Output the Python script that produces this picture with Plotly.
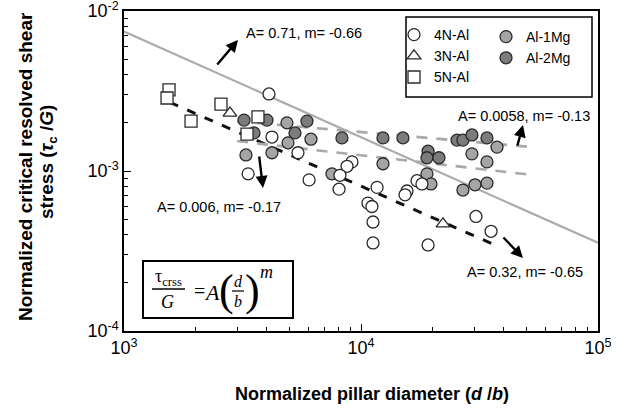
import numpy as np
import plotly.graph_objects as go

# Normalized pillar diameter (d/b) and normalized CRSS (tau/G) for each material
d_4n = [4090, 4210, 3340, 5420, 6040, 9160, 8730, 8150, 8080, 11690, 15630,
        17230, 18080, 15340, 10700, 11120, 11240, 11240, 19190, 30550, 35380]
t_4n = [3.03e-3, 1.63e-3, 9.6e-4, 1.30e-3, 8.8e-4, 1.14e-3, 1.07e-3, 9.4e-4,
        7.7e-4, 7.9e-4, 7.5e-4, 8.7e-4, 8.3e-4, 7.1e-4, 6.3e-4, 6.0e-4,
        4.8e-4, 3.55e-4, 3.45e-4, 5.2e-4, 4.2e-4]

d_3n = [2800, 22180]
t_3n = [2.30e-3, 4.67e-4]

d_5n = [1549, 1519, 1918, 2566, 3675, 3304]
t_5n = [3.21e-3, 2.86e-3, 2.05e-3, 2.62e-3, 2.18e-3, 1.70e-3]

d_1mg = [4870, 6150, 4920, 3270, 4210, 12380, 7540, 37490, 29380, 34000,
         18980, 19730, 26920, 30270, 34000]
t_1mg = [2.0e-3, 1.58e-3, 1.50e-3, 1.26e-3, 1.30e-3, 1.11e-3, 9.6e-4, 1.41e-3,
         1.28e-3, 1.14e-3, 9.6e-4, 8.3e-4, 7.6e-4, 8.2e-4, 8.4e-4]

d_2mg = [3210, 4010, 3536, 5915, 5265, 8310, 12380, 15030, 25420, 26920,
         29380, 34000, 19180, 18980, 21330]
t_2mg = [2.08e-3, 2.08e-3, 1.73e-3, 2.05e-3, 1.73e-3, 1.61e-3, 1.61e-3, 1.61e-3,
         1.56e-3, 1.56e-3, 1.68e-3, 1.61e-3, 1.33e-3, 1.21e-3, 1.21e-3]

# Power-law fits  tau/G = A (d/b)^m
fit_names = ["reference", "pure Al", "Al-1Mg", "Al-2Mg"]
fit_A = [0.71, 0.32, 0.006, 0.0058]
fit_m = [-0.66, -0.65, -0.17, -0.13]
fit_dmin = [1000, 1560, 3000, 3000]
fit_dmax = [100000, 36000, 52000, 52000]

x_ticks = [1e3, 1e4, 1e5]
x_tick_text = ["10<sup>3</sup>", "10<sup>4</sup>", "10<sup>5</sup>"]
y_ticks = [1e-4, 1e-3, 1e-2]
y_tick_text = ["10<sup>-4</sup>", "10<sup>-3</sup>", "10<sup>-2</sup>"]

SANS = "Arial, Liberation Sans, sans-serif"
SERIF = "Times New Roman, Liberation Serif, serif"

W, H = 630, 410
L, R, T, B = 124, 32, 11, 79
PW, PH = W - L - R, H - T - B


def px(x):
    return (x - L) / PW


def py(y):
    return (H - B - y) / PH


fig = go.Figure()

fit_styles = [
    dict(color="#ababab", width=2.2, dash="solid"),
    dict(color="#111111", width=3, dash="9px,10px"),
    dict(color="#a9a9a9", width=2.6, dash="11px,9px"),
    dict(color="#a9a9a9", width=2.6, dash="11px,9px"),
]
for A, m, lo, hi, st, nm in zip(fit_A, fit_m, fit_dmin, fit_dmax, fit_styles, fit_names):
    xs = np.logspace(np.log10(lo), np.log10(hi), 60)
    fig.add_trace(go.Scatter(x=xs, y=A * xs ** m, mode="lines", line=st,
                             name=nm, showlegend=False, hoverinfo="skip"))

edge = dict(color="#2a2a2a", width=1.3)
fig.add_trace(go.Scatter(x=d_1mg, y=t_1mg, mode="markers", name="Al-1Mg", legend="legend2",
                         marker=dict(symbol="circle", size=12, color="#a5a5a5", line=edge)))
fig.add_trace(go.Scatter(x=d_2mg, y=t_2mg, mode="markers", name="Al-2Mg", legend="legend2",
                         marker=dict(symbol="circle", size=12, color="#7c7c7c", line=edge)))
fig.add_trace(go.Scatter(x=d_4n, y=t_4n, mode="markers", name="4N-Al", legend="legend",
                         marker=dict(symbol="circle", size=12, color="white", line=edge)))
fig.add_trace(go.Scatter(x=d_3n, y=t_3n, mode="markers", name="3N-Al", legend="legend",
                         marker=dict(symbol="triangle-up", size=12, color="white", line=edge)))
fig.add_trace(go.Scatter(x=d_5n, y=t_5n, mode="markers", name="5N-Al", legend="legend",
                         marker=dict(symbol="square", size=12, color="white", line=edge)))

minor_x = [k * 10 ** e for e in (3, 4) for k in range(2, 10)]
minor_y = [k * 10.0 ** e for e in (-4, -3) for k in range(2, 10)]

axis_common = dict(type="log", showgrid=False, zeroline=False, showline=True,
                   linecolor="black", linewidth=1.5, mirror=True, ticks="inside",
                   ticklen=7, tickwidth=1.2, tickcolor="black",
                   automargin=False, ticklabeloverflow="allow",
                   tickfont=dict(family=SANS, size=18, color="black"))

fig.update_layout(
    width=W, height=H, autosize=False,
    margin=dict(l=L, r=R, t=T, b=B, autoexpand=False),
    paper_bgcolor="white", plot_bgcolor="white",
    font=dict(family=SANS, color="black"),
    xaxis=dict(range=[3, 5], tickvals=x_ticks, ticktext=x_tick_text,
               minor=dict(tickvals=minor_x, ticks="inside", ticklen=4,
                          tickcolor="black", showgrid=False),
               **axis_common),
    yaxis=dict(range=[-4, -2], tickvals=y_ticks, ticktext=y_tick_text,
               minor=dict(tickvals=minor_y, ticks="inside", ticklen=4,
                          tickcolor="black", showgrid=False),
               **axis_common),
    legend=dict(x=px(394), y=py(19), xanchor="left", yanchor="top",
                bgcolor="rgba(0,0,0,0)", font=dict(family=SANS, size=14),
                tracegroupgap=0, itemwidth=30),
    legend2=dict(x=px(486), y=py(21), xanchor="left", yanchor="top",
                 bgcolor="rgba(0,0,0,0)", font=dict(family=SANS, size=14),
                 tracegroupgap=0, itemwidth=30),
)

shapes = [
    # legend frame
    dict(type="rect", xref="paper", yref="paper", x0=px(406), x1=px(592),
         y0=py(97), y1=py(17), line=dict(color="black", width=1.5)),
    # equation frame
    dict(type="rect", xref="paper", yref="paper", x0=px(143), x1=px(293),
         y0=py(318), y1=py(261), line=dict(color="black", width=2)),
    # fraction bars
    dict(type="line", xref="paper", yref="paper", x0=px(152), x1=px(185),
         y0=py(289), y1=py(289), line=dict(color="black", width=1.4)),
    dict(type="line", xref="paper", yref="paper", x0=px(232), x1=px(244),
         y0=py(291), y1=py(291), line=dict(color="black", width=1.2)),
]
fig.update_layout(shapes=shapes)


def text(x, y, s, size=14, family=SANS, xanchor="center", **kw):
    fig.add_annotation(x=px(x), y=py(y), xref="paper", yref="paper", text=s,
                       showarrow=False, xanchor=xanchor, yanchor="middle",
                       font=dict(family=family, size=size, color="black"), **kw)


def arrow(tx, ty, hx, hy):
    fig.add_annotation(x=px(hx), y=py(hy), xref="paper", yref="paper", text="",
                       showarrow=True, ax=tx - hx, ay=ty - hy, arrowhead=2,
                       arrowsize=1, arrowwidth=2.4, arrowcolor="black")


# fit labels
text(244, 33, "A= 0.71, m= -0.66", size=14.5, xanchor="left")
arrow(216, 66, 238, 40)
text(456, 116, "A= 0.0058, m= -0.13", size=14.5, xanchor="left")
arrow(517, 147, 523, 125)
text(155, 207, "A= 0.006, m= -0.17", size=14.5, xanchor="left")
arrow(259, 155, 263, 188)
text(465, 272, "A= 0.32, m= -0.65", size=14.5, xanchor="left")
arrow(502, 236, 523, 258)

# equation  tau_crss / G = A (d/b)^m
text(168, 277, "τ<sub>crss</sub>", size=18, family=SERIF)
text(167, 302, "<i>G</i>", size=18, family=SERIF)
text(199, 291, "=", size=20, family=SERIF)
text(212, 292, "<i>A</i>", size=22, family=SERIF)
text(226, 290, "(", size=44, family=SERIF)
text(238, 281, "<i>d</i>", size=16, family=SERIF)
text(238, 301, "<i>b</i>", size=16, family=SERIF)
text(252, 290, ")", size=44, family=SERIF)
text(266, 272, "<i>m</i>", size=18, family=SERIF)

# axis titles
text(372, 394, "<b>Normalized pillar diameter (<i>d</i> /<i>b</i>)</b>", size=18)
text(25, 167, "<b>Normalized critical resolved shear</b>", size=19, textangle=-90)
text(48, 162, "<b>stress (<i>τ</i><sub>c</sub> /<i>G</i>)</b>", size=19, textangle=-90)

fig.write_html("out.html")
